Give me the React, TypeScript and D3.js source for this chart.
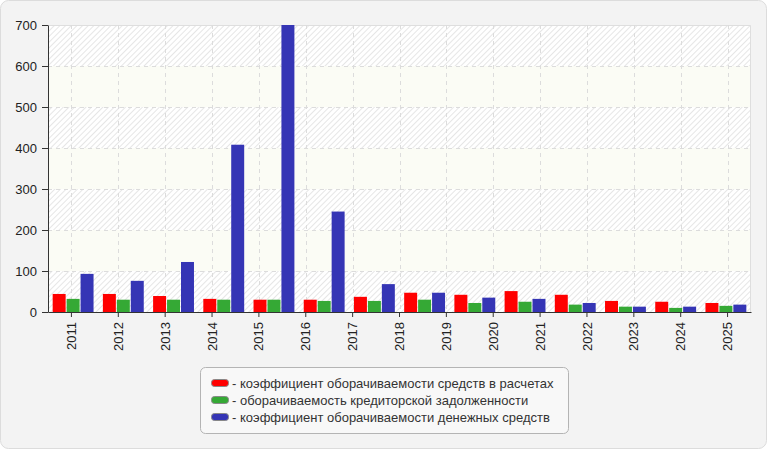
import { axisBottom, axisLeft, scaleBand, scaleLinear, select } from "d3";
import { useEffect, useRef } from "react";

// axis labels (15) – the source draws only 14 groups spread over them
const YEARS = [
  "2011", "2012", "2013", "2014", "2015", "2016", "2017", "2018",
  "2019", "2020", "2021", "2022", "2023", "2024", "2025",
];
const DATA_YEARS = YEARS.slice(0, 14);

const RECEIVABLES = [44, 44, 39, 32, 30, 30, 37, 47, 42, 51, 42, 27, 25, 22];
const PAYABLES = [32, 30, 30, 30, 30, 27, 27, 30, 22, 25, 18, 13, 10, 15];
const CASH = [93, 76, 122, 408, 700, 245, 68, 47, 35, 32, 22, 13, 13, 18];

const Y_TICKS = [0, 100, 200, 300, 400, 500, 600, 700];

const SERIES = [
  { key: "r", label: "- коэффициент оборачиваемости средств в расчетах", color: "#ff0000", values: RECEIVABLES },
  { key: "p", label: "- оборачиваемость кредиторской задолженности", color: "#35a935", values: PAYABLES },
  { key: "c", label: "- коэффициент оборачиваемости денежных средств", color: "#3535b5", values: CASH },
];

const W = 770;
const H = 450;
const FONT = "'Liberation Sans', Arial, sans-serif";

export default function App() {
  const svgRef = useRef<SVGSVGElement | null>(null);

  useEffect(() => {
    if (!svgRef.current) return;
    const svg = select(svgRef.current);
    svg.selectAll("*").remove();

    const left = 48;
    const right = 751;
    const top = 25;
    const bottom = 312;

    const defs = svg.append("defs");
    const pat = defs
      .append("pattern")
      .attr("id", "hatch")
      .attr("patternUnits", "userSpaceOnUse")
      .attr("width", 4)
      .attr("height", 4)
      .attr("patternTransform", "rotate(45)");
    pat.append("rect").attr("width", 4).attr("height", 4).attr("fill", "#ffffff");
    pat.append("line").attr("x1", 0).attr("y1", 0).attr("x2", 0).attr("y2", 4)
      .attr("stroke", "#e6e6e6").attr("stroke-width", 2);

    // outer frame
    svg.append("rect")
      .attr("x", 0.5).attr("y", 0.5).attr("width", W - 4).attr("height", H - 2)
      .attr("rx", 8).attr("fill", "#f3f3f3").attr("stroke", "#dcdcdc");

    const y = scaleLinear().domain([0, 700]).range([bottom, top]);
    const xAxisScale = scaleBand<string>().domain(YEARS).range([left, right]);
    const x0 = scaleBand<string>().domain(DATA_YEARS).range([left, right])
      .paddingInner(0.186).paddingOuter(0.093);
    const x1 = scaleBand<string>().domain(SERIES.map((s) => s.key))
      .range([0, x0.bandwidth()]).paddingInner(0.07);

    // alternating background bands
    const bands = Y_TICKS.slice(0, -1).map((v, i) => ({ v, i }));
    svg.append("g").selectAll("rect").data(bands).join("rect")
      .attr("x", left).attr("width", right - left)
      .attr("y", (d) => y(d.v + 100)).attr("height", (d) => y(d.v) - y(d.v + 100))
      .attr("fill", (d) => (d.i % 2 === 0 ? "url(#hatch)" : "#fbfcf5"));

    // frame of plot (top/right)
    svg.append("path")
      .attr("d", `M${left},${top + 0.5}H${right - 0.5}V${bottom}`)
      .attr("fill", "none").attr("stroke", "#dedede");

    // grid
    const grid = svg.append("g").attr("stroke", "#dcdcdc").attr("stroke-dasharray", "4,4");
    grid.selectAll("line.h").data(Y_TICKS.slice(1, -1)).join("line")
      .attr("x1", left).attr("x2", right)
      .attr("y1", (d) => Math.round(y(d)) + 0.5).attr("y2", (d) => Math.round(y(d)) + 0.5);
    grid.selectAll("line.v").data(YEARS).join("line")
      .attr("y1", top).attr("y2", bottom)
      .attr("x1", (d) => Math.round(xAxisScale(d)! + xAxisScale.bandwidth() / 2) + 0.5)
      .attr("x2", (d) => Math.round(xAxisScale(d)! + xAxisScale.bandwidth() / 2) + 0.5);

    // bars
    const groups = svg.append("g").selectAll("g").data(DATA_YEARS).join("g")
      .attr("transform", (d) => `translate(${x0(d)},0)`);
    groups.selectAll("rect")
      .data((d, i) => SERIES.map((s) => ({ key: s.key, color: s.color, value: s.values[i] })))
      .join("rect")
      .attr("x", (d) => x1(d.key)!)
      .attr("width", x1.bandwidth())
      .attr("y", (d) => y(d.value))
      .attr("height", (d) => bottom - y(d.value))
      .attr("fill", (d) => d.color);

    // y axis
    const yAxisG = svg.append("g").attr("transform", `translate(${left},0)`)
      .call(axisLeft(y).tickValues(Y_TICKS).tickSize(6).tickPadding(5).tickSizeOuter(0));
    yAxisG.select(".domain").attr("stroke", "#333");
    yAxisG.selectAll("line").attr("stroke", "#333");
    yAxisG.selectAll("text").attr("font-family", FONT).attr("font-size", 13).attr("fill", "#222");

    // x axis
    const xAxisG = svg.append("g").attr("transform", `translate(0,${bottom})`)
      .call(axisBottom(xAxisScale).tickSize(5).tickSizeOuter(0));
    xAxisG.select(".domain").attr("stroke", "#333");
    xAxisG.selectAll("line").attr("stroke", "#333");
    xAxisG.selectAll("text")
      .attr("font-family", FONT).attr("font-size", 13).attr("fill", "#222")
      .attr("transform", "rotate(-90)")
      .attr("text-anchor", "end")
      .attr("dy", "0.35em")
      .attr("x", -10)
      .attr("y", 0);

    // legend
    const legend = svg.append("g");
    legend.append("rect")
      .attr("x", 200.5).attr("y", 367.5).attr("width", 368).attr("height", 66)
      .attr("rx", 5).attr("fill", "#f8f8f8").attr("stroke", "#b4b4b4");
    const items = legend.selectAll("g").data(SERIES).join("g")
      .attr("transform", (_d, i) => `translate(211,${383 + i * 17})`);
    items.append("rect")
      .attr("x", 0.5).attr("y", -3.5).attr("width", 17).attr("height", 7)
      .attr("rx", 3).attr("fill", (d) => d.color).attr("stroke", "#888");
    items.append("text")
      .attr("x", 21).attr("y", 0).attr("dy", "0.35em")
      .attr("font-family", FONT).attr("font-size", 13).attr("fill", "#333")
      .text((d) => d.label);
  }, []);

  return (
    <div style={{ position: "absolute", left: 0, top: 0 }}>
      <svg ref={svgRef} width={W} height={H} style={{ display: "block" }} />
    </div>
  );
}
